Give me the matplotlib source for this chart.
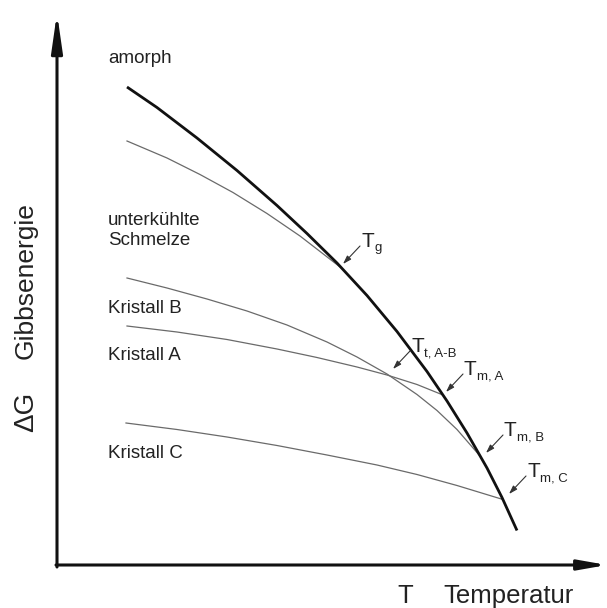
import matplotlib
matplotlib.use("Agg")
import matplotlib.pyplot as plt

plt.rcParams['font.family'] = ['Liberation Sans', 'DejaVu Sans']

# Schematic Gibbs energy curves (T and dG in arbitrary units)
amorph_T = [14, 20, 28, 36, 44, 50, 56, 62, 68, 74, 78, 82, 86, 89, 92]
amorph_G = [95.6, 91.5, 85.4, 78.9, 71.9, 66.3, 60.4, 53.9, 46.7, 38.7, 32.8, 26.4, 19.4, 13.5, 6.9]

schmelze_T = [14, 22, 28.6, 35.2, 42, 48.6, 53, 57]
schmelze_G = [84.8, 81.4, 78.1, 74.5, 70.3, 65.8, 62.4, 59.3]

kristall_b_T = [14, 22, 30, 38, 46, 54, 60, 66, 72, 76, 80, 84.6]
kristall_b_G = [57.4, 55.4, 53.2, 50.8, 48.0, 44.6, 41.6, 38.2, 34.1, 30.9, 27.1, 21.8]

kristall_a_T = [14, 24, 34, 44, 52, 60, 66, 72, 77.2]
kristall_a_G = [47.8, 46.6, 45.1, 43.2, 41.5, 39.6, 38.0, 36.1, 34.0]

kristall_c_T = [13.8, 24, 34, 44, 54, 64, 72, 80, 89.2]
kristall_c_G = [28.4, 27.1, 25.6, 23.9, 22.0, 20.0, 18.1, 15.9, 13.1]

# transition temperatures: label subscript, point the arrow marks
marks = ["g", "t, A-B", "m, A", "m, B", "m, C"]
mark_T = [57.2, 67.2, 77.8, 85.8, 90.4]
mark_G = [60.2, 39.2, 34.6, 22.4, 14.2]

curve_labels = ["amorph", "unterkühlte\nSchmelze", "Kristall B", "Kristall A", "Kristall C"]
curve_label_G = [100.4, 64.0, 50.4, 41.0, 21.4]

fig = plt.figure(figsize=(6.07, 6.08), dpi=100)
ax = fig.add_axes([0, 0, 1, 1])
ax.set_xlim(-11.4, 110)
ax.set_ylim(-8.6, 113)
ax.axis('off')

# axes with arrows
ax.annotate('', xy=(0, 110.4), xytext=(0, -0.4),
            arrowprops=dict(arrowstyle='-|>,head_length=2.3,head_width=0.33',
                            lw=2.2, color='#111111', shrinkA=0, shrinkB=0,
                            mutation_scale=10))
ax.annotate('', xy=(110, 0), xytext=(-0.2, 0),
            arrowprops=dict(arrowstyle='-|>,head_length=1.7,head_width=0.3',
                            lw=2.2, color='#111111', shrinkA=0, shrinkB=0,
                            mutation_scale=10))

thin = dict(color='#6a6a6a', lw=0.9)
ax.plot(schmelze_T, schmelze_G, **thin)
ax.plot(kristall_b_T, kristall_b_G, **thin)
ax.plot(kristall_a_T, kristall_a_G, **thin)
ax.plot(kristall_c_T, kristall_c_G, **thin)
ax.plot(amorph_T, amorph_G, color='#111111', lw=2.0, solid_capstyle='butt')

for lab, g in zip(curve_labels, curve_label_G):
    ax.text(10.2, g, lab, fontsize=13.5, color='#222222', ha='left', va='baseline',
            linespacing=1.2)

# transition labels with small arrows
for sub, t, g in zip(marks, mark_T, mark_G):
    tx, ty = t + 3.4, g + 3.6
    ax.annotate('', xy=(t, g), xytext=(tx, ty),
                arrowprops=dict(arrowstyle='-|>,head_length=0.5,head_width=0.16',
                                lw=0.8, color='#333333', shrinkA=0, shrinkB=0,
                                mutation_scale=10))
    ax.text(tx + 0.2, ty - 0.2, 'T', fontsize=15, color='#222222', ha='left', va='baseline')
    ax.annotate(sub, xy=(tx + 0.2, ty - 0.2), xytext=(9.6, -3), textcoords='offset points',
                fontsize=9.5, color='#222222', ha='left', va='baseline')

# axis titles
ax.text(-4.8, 30.6, 'ΔG', fontsize=20, rotation=90, rotation_mode='anchor',
        ha='center', va='baseline', color='#222222')
ax.text(-4.8, 56.8, 'Gibbsenergie', fontsize=19, rotation=90, rotation_mode='anchor',
        ha='center', va='baseline', color='#222222')
ax.text(68, -7.6, 'T', fontsize=18.5, ha='left', va='baseline', color='#222222')
ax.text(77.2, -7.6, 'Temperatur', fontsize=18.5, ha='left', va='baseline', color='#222222')

fig.savefig('out.png', dpi=100, facecolor='white')
